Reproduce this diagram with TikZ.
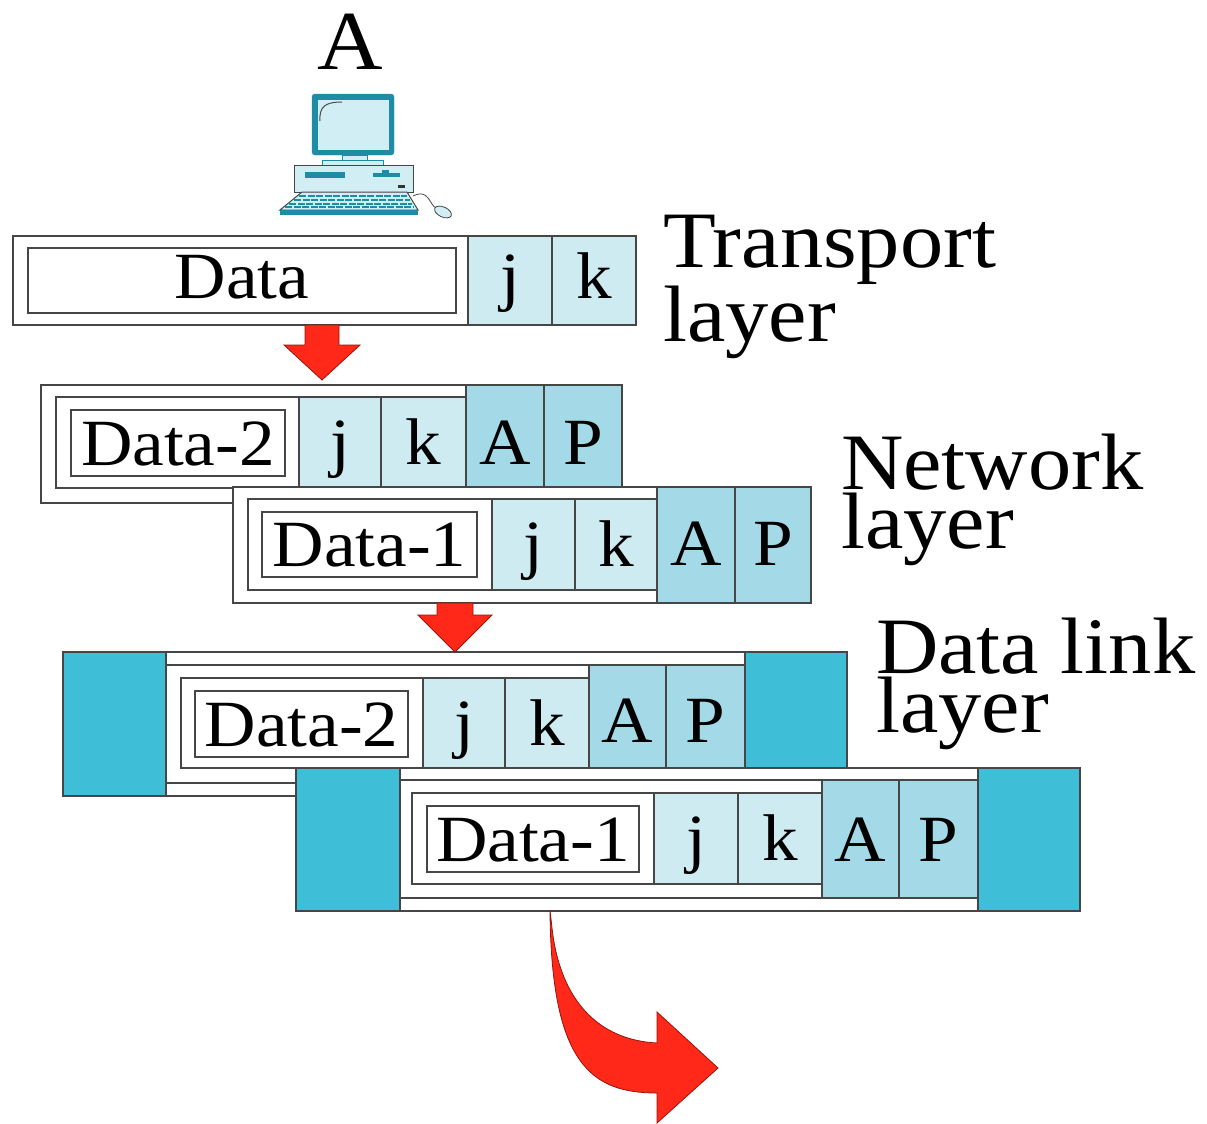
\documentclass[tikz,border=0pt]{standalone}
\usepackage{fontspec}
\setmainfont[FakeStretch=1.08]{Liberation Serif}
\usepackage{tikz}
\definecolor{linegray}{RGB}{70,70,70}
\definecolor{hdrlight}{RGB}{207,235,242}
\definecolor{hdrmid}{RGB}{164,218,231}
\definecolor{dlteal}{RGB}{62,190,215}
\definecolor{pcteal}{RGB}{30,140,165}
\definecolor{pclight}{RGB}{210,238,245}
\definecolor{arrowred}{RGB}{255,40,25}
\definecolor{arrowedge}{RGB}{150,20,10}
\newcommand\pktfont{\fontsize{66}{66}\selectfont}
\newcommand\layerfont{\fontsize{80}{59}\selectfont}

\begin{document}
\begin{tikzpicture}[x=1pt, y=-1pt,
    frame/.style={draw=linegray, fill=white, line width=1.3pt, inner sep=0pt, outer sep=0pt, anchor=north west},
    box/.style 2 args={minimum width=#1pt, minimum height=#2pt},
    cell/.style={frame, fill=hdrlight, font=\pktfont, text height=44pt, text depth=0pt},
    addr/.style={cell, fill=hdrmid},
    datab/.style={cell, fill=white},
    trailer/.style={frame, fill=dlteal},
    layer/.style={anchor=north west, inner sep=0pt, align=left, font=\layerfont},
    redarrow/.style={fill=arrowred, draw=arrowedge, line width=0.8pt}]

\useasboundingbox (0,0) rectangle (1207,1124);

% Host A
\node[font=\fontsize{84}{84}\selectfont, anchor=base, inner sep=0pt] (hostA) at (350,70) {A};

% Computer
\draw[pcteal, fill=pcteal, rounded corners=3pt] (312,94) rectangle (394,155);
\draw[pcteal, fill=pclight, line width=0.8pt] (317,99) rectangle (389,150);
\draw[black!70, line width=1pt] (320,121) .. controls (319,106) and (326,102) .. (342,102);
\draw[pcteal, fill=pclight, line width=1pt] (342,155) rectangle (367,160);
\draw[pcteal, fill=pclight, line width=1pt] (322,160) rectangle (383,165);
\draw[linegray, fill=pclight, line width=1pt] (294,165) rectangle (413,192);
\fill[pcteal] (305,172) rectangle (345,178);
\fill[pcteal] (373,173) rectangle (400,177);
\fill[pcteal] (382,170) rectangle (389,173);
\fill[black!80] (398,185) rectangle (405,188);
\draw[linegray, fill=pclight, line width=1pt] (302,192) -- (407,192) -- (418,210) -- (280,210) -- cycle;
\foreach \y/\l/\r in {196/299/407, 200/294/410, 204/289/412, 207/285/414}
  \draw[pcteal, line width=2.5pt, dash pattern=on 7pt off 1.5pt] (\l,\y) -- (\r,\y);
\fill[pcteal] (280,210) rectangle (418,215);
\draw[linegray, line width=0.8pt] (413,196) .. controls (425,190) and (428,198) .. (432,204) .. controls (434,207) .. (437,208);
\draw[linegray, fill=pclight, line width=0.8pt, rotate around={-25:(443,212)}] (443,212) ellipse (9 and 5);

% Transport layer
\node[frame, box={455}{89}] (tframe) at (13,236) {};
\node[datab, box={428}{65}, text depth=8pt] (tdata) at (28,248) {Data};
\node[cell, box={84}{89}, text depth=8pt] (tj) at (468,236) {j};
\node[cell, box={84}{89}, text depth=8pt] (tk) at (552,236) {k};

% Network layer, packet 2
\node[frame, box={581}{118}] (n2frame) at (41,385) {};
\node[frame, box={410}{91}] (n2inner) at (56,397) {};
\node[datab, box={214}{66}] (n2data) at (71,410) {Data-2};
\node[cell, box={82}{91}] (n2j) at (299,397) {j};
\node[cell, box={85}{91}] (n2k) at (381,397) {k};
\node[addr, box={78}{118}, text depth=4pt] (n2a) at (466,385) {A};
\node[addr, box={78}{118}, text depth=4pt] (n2p) at (544,385) {P};

% Network layer, packet 1
\node[frame, box={578}{116}] (n1frame) at (233,487) {};
\node[frame, box={409}{91}] (n1inner) at (248,499) {};
\node[datab, box={215}{65}] (n1data) at (262,512) {Data-1};
\node[cell, box={83}{91}] (n1j) at (492,499) {j};
\node[cell, box={82}{91}] (n1k) at (575,499) {k};
\node[addr, box={78}{116}, text depth=4pt] (n1a) at (657,487) {A};
\node[addr, box={76}{116}, text depth=4pt] (n1p) at (735,487) {P};

% Data link layer, frame 2
\node[trailer, box={103}{144}] (d2trl) at (63,652) {};
\node[frame, box={579}{144}] (d2frame) at (166,652) {};
\node[trailer, box={102}{144}] (d2hdr) at (745,652) {};
\node[frame, box={579}{118}] (d2net) at (166,665) {};
\node[frame, box={408}{90}] (d2inner) at (181,678) {};
\node[datab, box={213}{66}] (d2data) at (195,691) {Data-2};
\node[cell, box={82}{90}] (d2j) at (423,678) {j};
\node[cell, box={84}{90}] (d2k) at (505,678) {k};
\node[addr, box={77}{118}, text depth=8pt] (d2a) at (589,665) {A};
\node[addr, box={79}{118}, text depth=8pt] (d2p) at (666,665) {P};

% Data link layer, frame 1
\node[trailer, box={104}{143}] (d1trl) at (296,768) {};
\node[frame, box={578}{143}] (d1frame) at (400,768) {};
\node[trailer, box={102}{143}] (d1hdr) at (978,768) {};
\node[frame, box={578}{118}] (d1net) at (400,780) {};
\node[frame, box={410}{91}] (d1inner) at (412,793) {};
\node[datab, box={212}{66}] (d1data) at (427,806) {Data-1};
\node[cell, box={84}{91}] (d1j) at (654,793) {j};
\node[cell, box={84}{91}] (d1k) at (738,793) {k};
\node[addr, box={77}{118}] (d1a) at (822,780) {A};
\node[addr, box={79}{118}] (d1p) at (899,780) {P};

% Arrows
\coordinate (a1) at (322,325);
\draw[redarrow] (a1) ++(-17,0) -- ++(34,0) -- ++(0,20) -- ++(21,0) -- ++(-38,35) -- ++(-38,-35) -- ++(21,0) -- cycle;
\coordinate (a2) at (455,603);
\draw[redarrow] (a2) ++(-18,0) -- ++(36,0) -- ++(0,12) -- ++(19,0) -- ++(-37,37) -- ++(-37,-37) -- ++(19,0) -- cycle;
\coordinate (c1) at (550,910);
\draw[redarrow] (c1) .. controls (551,1065) and (592,1093) .. (657,1093) -- (657,1123) -- (718,1068) -- (657,1012) -- (657,1043) .. controls (598,1040) and (560,1000) .. (552,928) -- cycle;

% Layer labels
\node[layer] (ltrans) at (663,215) {Transport\\layer};
\node[layer] (lnet) at (841,434) {Network\\layer};
\node[layer] (llink) at (876,618) {Data link\\layer};
\end{tikzpicture}
\end{document}
